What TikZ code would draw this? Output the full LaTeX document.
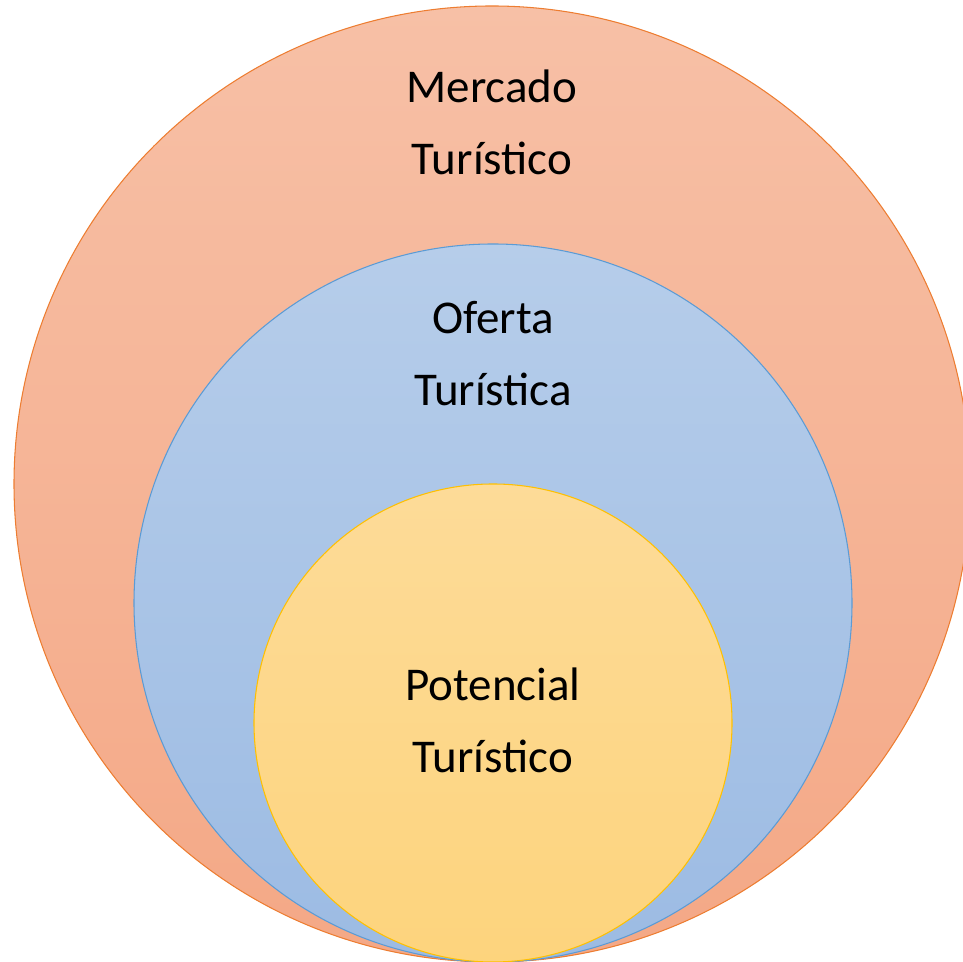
\documentclass[tikz,border=0pt]{standalone}
\usepackage{fontspec}
\setmainfont{Carlito}
\usepackage{tikz}

\definecolor{mercadoline}{RGB}{237,125,49}
\definecolor{mercadotop}{RGB}{247,192,166}
\definecolor{mercadobot}{RGB}{244,168,134}
\definecolor{ofertaline}{RGB}{91,155,213}
\definecolor{ofertatop}{RGB}{182,205,234}
\definecolor{ofertabot}{RGB}{156,187,227}
\definecolor{potencialline}{RGB}{255,192,0}
\definecolor{potencialtop}{RGB}{253,219,152}
\definecolor{potencialbot}{RGB}{253,212,125}

\begin{document}
\begin{tikzpicture}[x=0.02cm,y=0.02cm]
\tikzstyle{every node}+=[inner sep=0pt]
\tikzstyle{lbl}=[align=center,anchor=base,font=\fontsize{26.75pt}{41pt}\selectfont]
\useasboundingbox (0,0) rectangle (963,962);
\clip (0,0) rectangle (963,962);
\draw [mercadoline,line width=0.6pt,top color=mercadotop,bottom color=mercadobot] (492,478) circle (478);
\draw [ofertaline,line width=0.6pt,top color=ofertatop,bottom color=ofertabot] (493,359) circle (359);
\draw [potencialline,line width=0.6pt,top color=potencialtop,bottom color=potencialbot] (493,239) circle (239);
\node [lbl] (mercado) at (492,787) {Mercado\\Turístico};
\node [lbl] (oferta) at (493,556) {Oferta\\Turística};
\node [lbl] (potencial) at (493,189) {Potencial\\Turístico};
\end{tikzpicture}
\end{document}
